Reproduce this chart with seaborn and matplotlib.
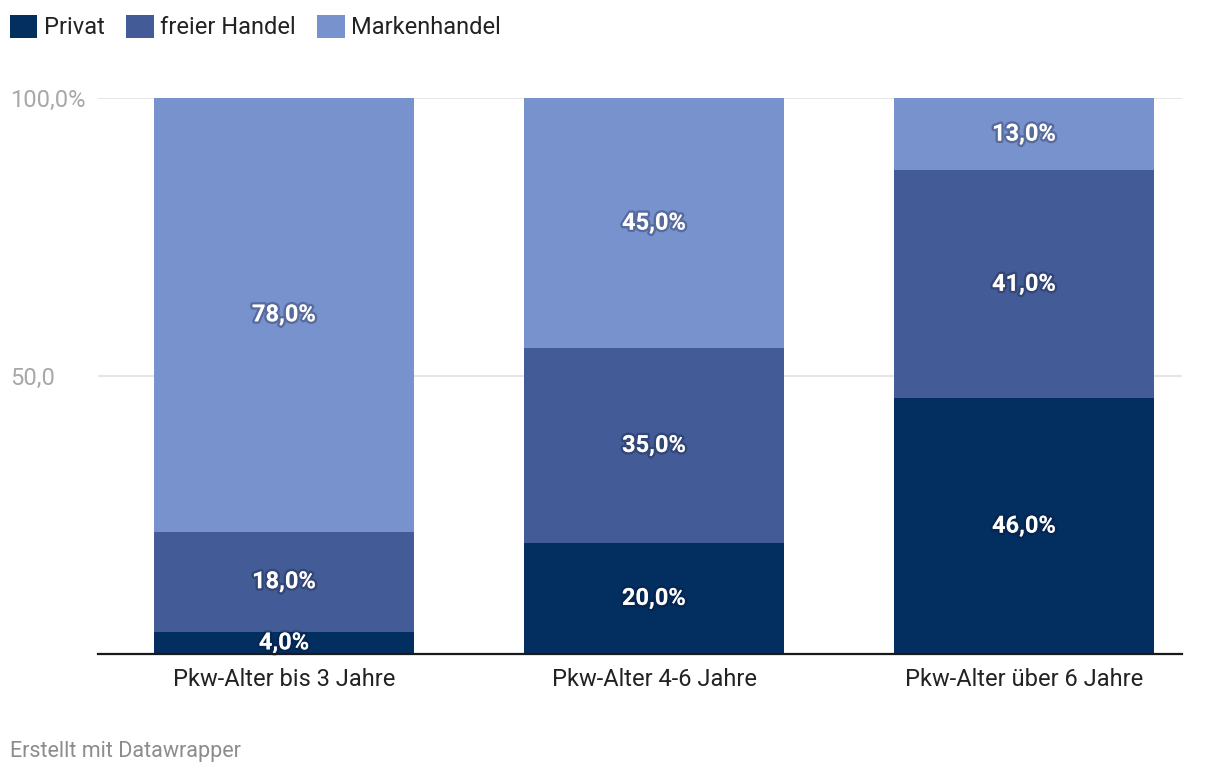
import numpy as np
import pandas as pd
import seaborn as sns
import matplotlib.pyplot as plt
import matplotlib.patheffects as pe
from matplotlib.patches import Patch

# Daten
kategorien = ["Pkw-Alter bis 3 Jahre", "Pkw-Alter 4-6 Jahre", "Pkw-Alter über 6 Jahre"]
privat = [4.0, 20.0, 46.0]
freier_handel = [18.0, 35.0, 41.0]
markenhandel = [78.0, 45.0, 13.0]
serien = ["Privat", "freier Handel", "Markenhandel"]
farben = ["#032e60", "#435c97", "#7892ce"]

sns.set_style("white")
plt.rcParams['font.family'] = ['Roboto', 'DejaVu Sans']

df = pd.DataFrame({"kat": kategorien, "Privat": privat,
                   "freier Handel": freier_handel, "Markenhandel": markenhandel})
df_cum = df[serien].cumsum(axis=1)
df_cum["kat"] = kategorien

fig = plt.figure(figsize=(12.2, 7.76), dpi=100)
ax = fig.add_axes([98/1220, 1-654/776, 1084/1220, 556/776])

# gestapelt: von hinten nach vorne zeichnen
for s, c in zip(serien[::-1], farben[::-1]):
    sns.barplot(data=df_cum, x="kat", y=s, color=c, width=0.703,
                saturation=1, ax=ax, zorder=2, edgecolor="none", linewidth=0)

# Beschriftungen
for i in range(len(kategorien)):
    unten = 0
    for s in serien:
        v = df[s][i]
        t = ax.text(i, unten + v/2, f"{v:.1f}%".replace(".", ","), ha="center", va="center",
                    color="white", fontsize=17, fontweight="bold", zorder=5)
        t.set_path_effects([pe.withStroke(linewidth=3.5, foreground=(0.05, 0.08, 0.2, 0.3))])
        unten += v

ax.set_xlim(-0.503, 2.427)
ax.set_ylim(0, 100)
ax.set_yticks([50, 100])
ax.set_yticklabels(["50,0", "100,0%"])
ax.grid(axis="y", color="#e0e0e0", linewidth=1.2, zorder=0)
ax.set_axisbelow(True)
for sp in ["top", "right", "left"]:
    ax.spines[sp].set_visible(False)
ax.spines["bottom"].set_color("#1a1a1a")
ax.spines["bottom"].set_linewidth(1.6)
ax.spines["bottom"].set_zorder(6)
ax.tick_params(axis="y", length=0, pad=63, labelsize=17, labelcolor="#a8a8a8")
for lab in ax.get_yticklabels():
    lab.set_ha("left")
ax.tick_params(axis="x", length=0, pad=10, labelsize=17, labelcolor="#222222")
ax.set_xlabel("")
ax.set_ylabel("")

handles = [Patch(facecolor=c, edgecolor="none") for c in farben]
fig.legend(handles, serien, loc="upper left", bbox_to_anchor=(-7/1220, 1+2/776), ncol=3,
           frameon=False, fontsize=17, handlelength=1.18, handleheight=1.18,
           handletextpad=0.27, columnspacing=0.9, borderaxespad=0.3, labelcolor="#222222")

fig.text(10/1220, 1-751/776, "Erstellt mit Datawrapper", fontsize=15.5, color="#8c8c8c",
         ha="left", va="center")

fig.savefig("out.png", dpi=100)
